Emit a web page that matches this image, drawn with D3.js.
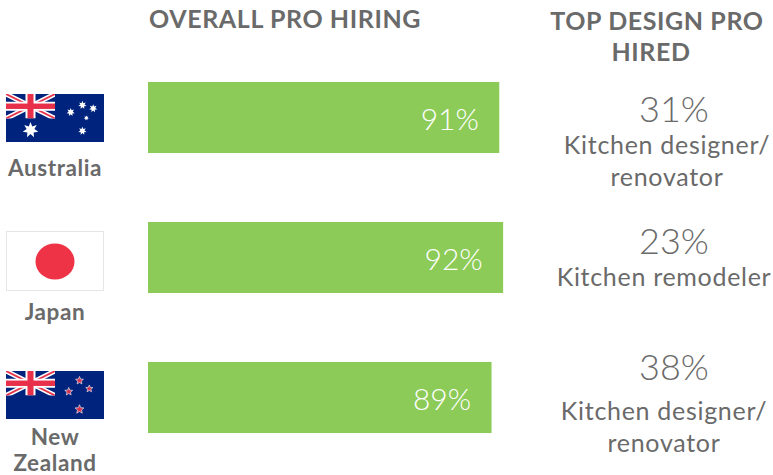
<!DOCTYPE html>
<html><head><meta charset="utf-8">
<script src="https://cdn.jsdelivr.net/npm/d3@7"></script>
<style>html,body{margin:0;background:#fff}svg{display:block}text{font-family:Lato,"Open Sans",sans-serif;fill:#6a6a6a}</style>
</head><body><svg id="c" width="773" height="475"></svg>
<script>
const countries = ["Australia","Japan","New Zealand"];
const overall = [91,92,89];
const topShare = [31,23,38];
const topPro = [["Kitchen designer/","renovator"],["Kitchen remodeler"],["Kitchen designer/","renovator"]];
const headers = ["OVERALL PRO HIRING",["TOP DESIGN PRO","HIRED"]];
const countryLines = [["Australia"],["Japan"],["New","Zealand"]];
const flagKinds = ["au","jp","nz"];
const auStars = [[0.66,0.38,4.2],[0.78,0.23,4.2],[0.89,0.3,4.2],[0.82,0.5,2.6],[0.78,0.77,4.2],[0.25,0.75,8]];
const nzStars = [[0.75,0.2,4.6],[0.64,0.43,4.6],[0.85,0.37,4.2],[0.75,0.8,5.2]];

const svg = d3.select("#c");
const x = d3.scaleLinear().domain([0,100]).range([148,534]);
const barTop = [82,222,362], barH = 71;
const green="#8ccb57", navy="#00247d", red="#e8304a";

function star(cx,cy,r,n=5,inner=0.45){
  const pts=[];
  for(let i=0;i<n*2;i++){const a=-Math.PI/2+i*Math.PI/n,q=i%2?r*inner:r;pts.push([cx+q*Math.cos(a),cy+q*Math.sin(a)]);}
  return d3.line()(pts)+"Z";
}
function jack(g,id,fx,fy,w,h){
  const clip=svg.append("clipPath").attr("id",id);
  clip.append("rect").attr("x",fx).attr("y",fy).attr("width",w).attr("height",h);
  const j=g.append("g").attr("clip-path",`url(#${id})`);
  j.append("rect").attr("x",fx).attr("y",fy).attr("width",w).attr("height",h).attr("fill",navy);
  const d=[[fx,fy,fx+w,fy+h],[fx,fy+h,fx+w,fy]];
  d.forEach(l=>j.append("line").attr("x1",l[0]).attr("y1",l[1]).attr("x2",l[2]).attr("y2",l[3]).attr("stroke","#fff").attr("stroke-width",5));
  d.forEach(l=>j.append("line").attr("x1",l[0]).attr("y1",l[1]).attr("x2",l[2]).attr("y2",l[3]).attr("stroke",red).attr("stroke-width",1.8));
  j.append("rect").attr("x",fx+w/2-5).attr("y",fy).attr("width",10).attr("height",h).attr("fill","#fff");
  j.append("rect").attr("x",fx).attr("y",fy+h/2-4.5).attr("width",w).attr("height",9).attr("fill","#fff");
  j.append("rect").attr("x",fx+w/2-3).attr("y",fy).attr("width",6).attr("height",h).attr("fill",red);
  j.append("rect").attr("x",fx).attr("y",fy+h/2-2.7).attr("width",w).attr("height",5.4).attr("fill",red);
}
const flagBox = {au:[6,94,98,48],jp:[6,232,98,59],nz:[6,371,98,48]};
flagKinds.forEach(k=>{
  const [fx,fy,w,h]=flagBox[k], g=svg.append("g");
  if(k==="jp"){
    g.append("rect").attr("x",fx+.5).attr("y",fy-.5).attr("width",w-1).attr("height",h).attr("fill","#fff").attr("stroke","#e6e6e6");
    g.append("ellipse").attr("cx",fx+w/2).attr("cy",fy+h/2).attr("rx",19.5).attr("ry",18).attr("fill","#ef3347");
  } else {
    g.append("rect").attr("x",fx).attr("y",fy).attr("width",w).attr("height",h).attr("fill",navy);
    jack(g,"j"+k,fx,fy,49,24.5);
    if(k==="au") auStars.forEach(s=>g.append("path").attr("d",star(fx+s[0]*w,fy+s[1]*h,s[2],7,.5)).attr("fill","#fff"));
    else nzStars.forEach(s=>{
      g.append("path").attr("d",star(fx+s[0]*w,fy+s[1]*h,s[2]*.9)).attr("fill","#d8324e").attr("stroke","#dfe4f0").attr("stroke-width",.7);
    });
  }
});

const anchorMid=(sel)=>sel.attr("text-anchor","middle");
// headers
svg.append("text").attr("x",149).attr("y",28).attr("font-size",25).attr("font-weight",700).attr("letter-spacing",.6).text(headers[0]);
headers[1].forEach((t,i)=>anchorMid(svg.append("text")).attr("x",[657,651][i]).attr("y",[30,61][i]).attr("font-size",25).attr("font-weight",700).attr("letter-spacing",.6).text(t));

// bars
svg.selectAll("rect.bar").data(overall).join("rect").attr("class","bar")
  .attr("x",x(0)).attr("y",(d,i)=>barTop[i]).attr("width",d=>x(d)-x(0)).attr("height",barH).attr("fill",green);
svg.selectAll("text.val").data(overall).join("text").attr("class","val")
  .attr("x",d=>x(d)-49.5).attr("y",(d,i)=>barTop[i]+48).attr("text-anchor","middle")
  .attr("font-size",30).attr("font-weight",300).style("fill","#fff").text(d=>d+"%");

// country labels
const labelY=[[176],[320],[445,471]];
countryLines.forEach((ls,i)=>ls.forEach((t,j)=>anchorMid(svg.append("text")).attr("x",55).attr("y",labelY[i][j]).attr("font-size",22.5).attr("font-weight",700).attr("letter-spacing",.6).text(t)));

// top pro
const shareY=[122,254,380], proY=[[154,186],[286],[420,452]], proX=[667,664,664], shareX=[674,674,674];
topShare.forEach((v,i)=>anchorMid(svg.append("text")).attr("x",shareX[i]).attr("y",shareY[i]).attr("font-size",36).attr("font-weight",300).text(v+"%"));
topPro.forEach((ls,i)=>ls.forEach((t,j)=>anchorMid(svg.append("text")).attr("x",proX[i]).attr("y",proY[i][j]).attr("font-size",25).attr("font-weight",400).attr("letter-spacing",.7).text(t)));
</script></body></html>
